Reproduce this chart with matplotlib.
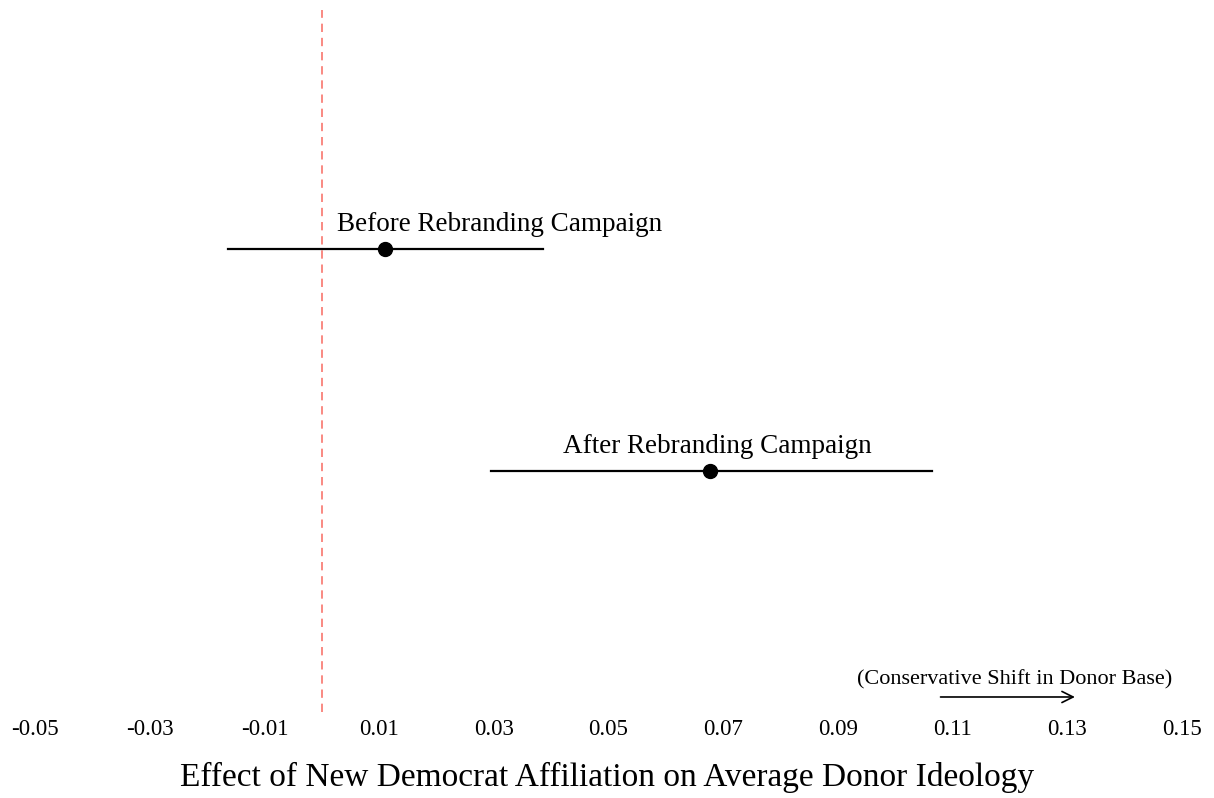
import numpy as np
import matplotlib
matplotlib.use("Agg")
import matplotlib.pyplot as plt

# estimativas pontuais e intervalos de confianca
periodos = ["Before Rebranding Campaign", "After Rebranding Campaign"]
estimativa = [0.011, 0.0677]
ic_inf = [-0.0164, 0.0295]
ic_sup = [0.0385, 0.1064]
posicao_y = [2, 1]
rotulo_x = [0.031, 0.069]

ticks_x = [-0.05, -0.03, -0.01, 0.01, 0.03, 0.05, 0.07, 0.09, 0.11, 0.13, 0.15]

plt.rcParams["font.family"] = ["Liberation Serif", "DejaVu Serif"]

fig = plt.figure(figsize=(12.14, 7.98), dpi=100)
ax = fig.add_axes([0.0288, 0.1078, 0.9449, 0.8797])

ax.axvline(0, color="#F8766D", linestyle=(0, (5, 3.5)), linewidth=1.2)

for i in range(len(periodos)):
    ax.plot([ic_inf[i], ic_sup[i]], [posicao_y[i], posicao_y[i]], color="black", linewidth=1.6)
    ax.plot(estimativa[i], posicao_y[i], "o", color="black", markersize=10)
    ax.text(rotulo_x[i], posicao_y[i] + 0.083, periodos[i], ha="center", va="baseline",
            fontsize=19.5)

# seta indicando o sentido conservador
ax.annotate("", xy=(0.1318, -0.0175), xytext=(0.1074, -0.0175),
            arrowprops=dict(arrowstyle="->", color="black", lw=1.2, mutation_scale=20),
            annotation_clip=False)
ax.text(0.1208, 0.041, "(Conservative Shift in Donor Base)", ha="center", va="baseline",
        fontsize=16, clip_on=False)

ax.set_xlim(-0.05, 0.15)
ax.set_ylim(-0.085, 3.077)
ax.set_xticks(ticks_x)
ax.set_xticklabels([f"{t:.2f}" for t in ticks_x], fontsize=16.5)
ax.tick_params(axis="x", length=0, pad=5)
ax.set_yticks([])
for s in ax.spines.values():
    s.set_visible(False)
fig.text(0.5, 1 - 786 / 798, "Effect of New Democrat Affiliation on Average Donor Ideology",
         ha="center", va="baseline", fontsize=24)

fig.savefig("out.png", dpi=100)
